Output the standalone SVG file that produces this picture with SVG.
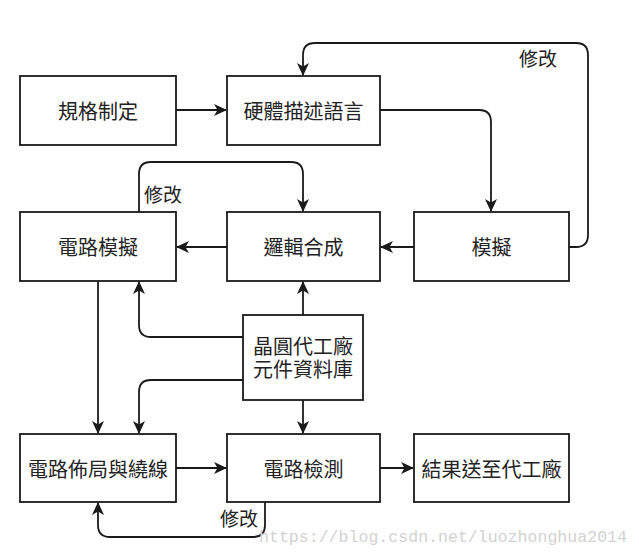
<svg xmlns="http://www.w3.org/2000/svg" width="639" height="555" viewBox="0 0 639 555">
<style>
.box{fill:#fff;stroke:#1a1a1a;stroke-width:1.8}
.t{font-family:"Noto Sans CJK TC","Noto Sans CJK SC",sans-serif;font-size:20px;fill:#222;text-anchor:middle;dominant-baseline:central}
.t2{font-family:"Liberation Sans","Noto Sans CJK TC","Noto Sans CJK SC",sans-serif;font-size:20px;fill:#222;text-anchor:middle}
.lbl{font-family:"Noto Sans CJK TC","Noto Sans CJK SC",sans-serif;font-size:19px;fill:#222;text-anchor:middle;dominant-baseline:central}
.c{fill:none;stroke:#1a1a1a;stroke-width:1.8;marker-end:url(#ah)}
.wm{font-family:"Liberation Mono",monospace;font-size:17px;fill:#d2d2d2}
</style>
<defs>
<marker id="ah" markerUnits="userSpaceOnUse" markerWidth="14" markerHeight="13" refX="12" refY="6" orient="auto">
<path d="M0,0 L13,6 L0,12 L3.5,6 Z" fill="#1a1a1a"/>
</marker>
</defs>
<rect width="639" height="555" fill="#fff"/>
<g id="connectors">
<path class="c" d="M176,110 H226"/>
<path class="c" d="M380,110 H479 Q491,110 491,122 V211"/>
<path class="c" d="M569,247 H576 Q588,247 588,235 V55 Q588,43 576,43 H315 Q303,43 303,55 V75"/>
<path class="c" d="M414,247 H381"/>
<path class="c" d="M227,247 H177"/>
<path class="c" d="M139,212 V174 Q139,162 151,162 H291 Q303,162 303,174 V211"/>
<path class="c" d="M98,281 V433"/>
<path class="c" d="M303,315 V282"/>
<path class="c" d="M243,337 H151 Q139,337 139,325 V282"/>
<path class="c" d="M243,380 H151 Q139,380 139,392 V433"/>
<path class="c" d="M303,400 V433"/>
<path class="c" d="M176,468 H226"/>
<path class="c" d="M380,468 H413"/>
<path class="c" d="M265,502 V525 Q265,537 253,537 H110 Q98,537 98,525 V503"/>
<text class="lbl" x="538" y="57">修改</text>
<text class="lbl" x="163" y="193">修改</text>
<text class="lbl" x="239" y="517">修改</text>
</g>
<g id="n1"><rect class="box" x="20" y="76" width="156" height="69"/><text class="t" x="98" y="110.5">規格制定</text></g>
<g id="n2"><rect class="box" x="227" y="76" width="153" height="69"/><text class="t" x="303.5" y="110.5">硬體描述語言</text></g>
<g id="n3"><rect class="box" x="20" y="212" width="156" height="69"/><text class="t" x="98" y="246.5">電路模擬</text></g>
<g id="n4"><rect class="box" x="227" y="212" width="153" height="69"/><text class="t" x="303.5" y="246.5">邏輯合成</text></g>
<g id="n5"><rect class="box" x="414" y="212" width="155" height="69"/><text class="t" x="491.5" y="246.5">模擬</text></g>
<g id="n6"><rect class="box" x="243" y="315" width="120" height="85"/><text class="t2" x="303" y="354">晶圓代工廠</text><text class="t2" x="303" y="377">元件資料庫</text></g>
<g id="n7"><rect class="box" x="20" y="434" width="156" height="68"/><text class="t" x="98" y="468">電路佈局與繞線</text></g>
<g id="n8"><rect class="box" x="227" y="434" width="153" height="68"/><text class="t" x="303.5" y="468">電路檢測</text></g>
<g id="n9"><rect class="box" x="414" y="434" width="155" height="68"/><text class="t" x="491.5" y="468">結果送至代工廠</text></g>
<text class="wm" x="259" y="542" textLength="368" lengthAdjust="spacingAndGlyphs">https://blog.csdn.net/luozhonghua2014</text>
</svg>
